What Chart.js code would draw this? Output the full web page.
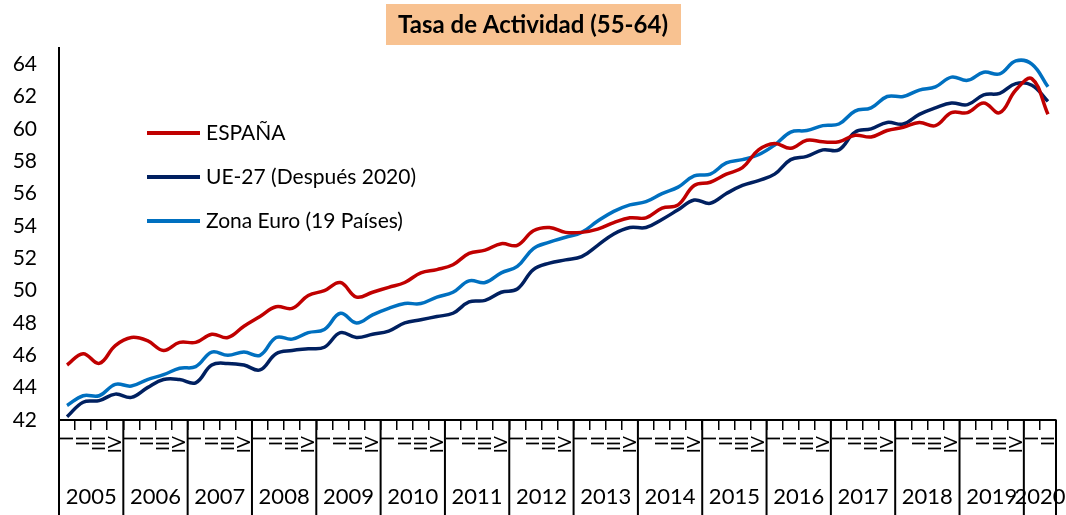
<!DOCTYPE html>
<html>
<head>
<meta charset="utf-8">
<script src="https://cdn.jsdelivr.net/npm/chart.js@4"></script>
<style>
  html, body { margin: 0; padding: 0; background: #fff; }
  #wrap { width: 1066px; height: 515px; position: relative; }
</style>
</head>
<body>
<div id="wrap"><canvas id="chart"></canvas></div>
<script>
const years = ["2005", "2006", "2007", "2008", "2009", "2010", "2011", "2012",
  "2013", "2014", "2015", "2016", "2017", "2018", "2019", "2020"];
const quartersPerYear = [4, 4, 4, 4, 4, 4, 4, 4, 4, 4, 4, 4, 4, 4, 4, 2];
const quarterNames = ["I", "II", "III", "IV"];
const quarterLabels = years.flatMap((y, i) => quarterNames.slice(0, quartersPerYear[i]));
const yTicks = [42, 44, 46, 48, 50, 52, 54, 56, 58, 60, 62, 64];

const espana = [45.4, 46.1, 45.5, 46.6, 47.1, 46.9, 46.3, 46.8, 46.8, 47.3, 47.1, 47.8,
  48.4, 49.0, 48.9, 49.7, 50.0, 50.5, 49.6, 49.9, 50.2, 50.5, 51.1, 51.3,
  51.6, 52.3, 52.5, 52.9, 52.8, 53.7, 53.9, 53.6, 53.6, 53.8, 54.2, 54.5,
  54.5, 55.1, 55.3, 56.5, 56.7, 57.2, 57.6, 58.7, 59.1, 58.8, 59.3, 59.2,
  59.2, 59.6, 59.5, 59.9, 60.1, 60.4, 60.2, 61.0, 61.0, 61.6, 61.0, 62.4,
  63.1, 60.9];
const ue27 = [42.2, 43.1, 43.2, 43.6, 43.4, 44.0, 44.5, 44.5, 44.3, 45.4, 45.5, 45.4,
  45.1, 46.1, 46.3, 46.4, 46.5, 47.4, 47.1, 47.3, 47.5, 48.0, 48.2, 48.4,
  48.6, 49.3, 49.4, 49.9, 50.1, 51.3, 51.7, 51.9, 52.1, 52.8, 53.5, 53.9,
  53.9, 54.4, 55.0, 55.6, 55.4, 56.0, 56.5, 56.8, 57.2, 58.1, 58.3, 58.7,
  58.7, 59.8, 60.0, 60.4, 60.3, 60.9, 61.3, 61.6, 61.5, 62.1, 62.2, 62.8,
  62.7, 61.7];
const zonaEuro = [42.9, 43.5, 43.5, 44.2, 44.1, 44.5, 44.8, 45.2, 45.3, 46.2, 46.0, 46.2,
  46.0, 47.1, 47.0, 47.4, 47.6, 48.6, 48.0, 48.5, 48.9, 49.2, 49.2, 49.6,
  49.9, 50.6, 50.5, 51.1, 51.5, 52.6, 53.0, 53.3, 53.6, 54.3, 54.9, 55.3,
  55.5, 56.0, 56.4, 57.1, 57.2, 57.9, 58.1, 58.4, 59.0, 59.8, 59.9, 60.2,
  60.3, 61.1, 61.3, 62.0, 62.0, 62.4, 62.6, 63.2, 63.0, 63.5, 63.4, 64.2,
  64.0, 62.6];

const FONT = "Lato, 'Open Sans', sans-serif";

// title with the peach box
const titleBox = {
  id: "titleBox",
  afterDraw(chart) {
    const ctx = chart.ctx;
    const cx = chart.width / 2;
    ctx.save();
    ctx.fillStyle = "#f8c291";
    ctx.fillRect(cx - 147, 4, 295, 41);
    ctx.fillStyle = "#000";
    ctx.font = "bold 24px " + FONT;
    ctx.textAlign = "center";
    ctx.textBaseline = "middle";
    ctx.fillText("Tasa de Actividad (55-64)", cx, 25);
    ctx.restore();
  },
};

// legend inside the plot
const insideLegend = {
  id: "insideLegend",
  afterDraw(chart) {
    const { ctx, chartArea } = chart;
    ctx.save();
    ctx.font = "21px " + FONT;
    ctx.textBaseline = "middle";
    chart.data.datasets.forEach((ds, i) => {
      const y = chartArea.top + 85 + i * 44;
      const x = chartArea.left + 88;
      ctx.strokeStyle = ds.borderColor;
      ctx.lineWidth = 4;
      ctx.beginPath();
      ctx.moveTo(x, y);
      ctx.lineTo(x + 53, y);
      ctx.stroke();
      ctx.fillStyle = "#000";
      ctx.fillText(ds.label, x + 59, y);
    });
    ctx.restore();
  },
};

// second axis row: years with separators
const yearAxis = {
  id: "yearAxis",
  afterDraw(chart) {
    const { ctx } = chart;
    const x = chart.scales.x;
    const step = x.getPixelForTick(1) - x.getPixelForTick(0);
    let start = 0;
    ctx.save();
    ctx.strokeStyle = "#000";
    ctx.lineWidth = 2;
    ctx.fillStyle = "#000";
    ctx.font = "22px " + FONT;
    ctx.textAlign = "center";
    ctx.textBaseline = "middle";
    years.forEach((yr, i) => {
      const n = quartersPerYear[i];
      const left = x.getPixelForTick(start) - step / 2;
      const right = x.getPixelForTick(start + n - 1) + step / 2;
      ctx.beginPath();
      ctx.moveTo(left, x.top);
      ctx.lineTo(left, chart.height);
      if (i === years.length - 1) {
        ctx.moveTo(right, x.top);
        ctx.lineTo(right, chart.height);
      }
      ctx.stroke();
      ctx.fillText(yr, (left + right) / 2, x.bottom - 18);
      start += n;
    });
    ctx.restore();
  },
};

new Chart(document.getElementById("chart"), {
  type: "line",
  data: {
    labels: quarterLabels,
    datasets: [
      { label: "ESPAÑA", data: espana, borderColor: "#c00000" },
      { label: "UE-27 (Después 2020)", data: ue27, borderColor: "#002060" },
      { label: "Zona Euro (19 Países)", data: zonaEuro, borderColor: "#0070c0" },
    ],
  },
  options: {
    responsive: true,
    maintainAspectRatio: false,
    animation: false,
    layout: { padding: { top: 48, right: 10, left: 0, bottom: 0 } },
    elements: {
      line: { borderWidth: 3.5, tension: 0.4, fill: false },
      point: { radius: 0 },
    },
    plugins: {
      legend: { display: false },
      title: { display: false },
      tooltip: { enabled: false },
    },
    scales: {
      x: {
        offset: true,
        grid: { display: true, drawOnChartArea: false, offset: true, tickLength: 10, color: "#000", lineWidth: 1.5 },
        border: { color: "#000", width: 2 },
        ticks: {
          autoSkip: false,
          maxRotation: 90,
          minRotation: 90,
          padding: 6,
          color: "#000",
          font: { family: FONT, size: 18 },
        },
        afterFit: (s) => {
          s.height = 95;
          s.paddingLeft = 0;
          s.paddingRight = 0;
        },
      },
      y: {
        min: 42,
        max: 65,
        grid: { display: false, drawTicks: false },
        border: { color: "#000", width: 2 },
        afterBuildTicks: (s) => { s.ticks = yTicks.map((v) => ({ value: v })); },
        ticks: {
          padding: 22,
          color: "#000",
          font: { family: FONT, size: 21 },
        },
        afterFit: (s) => {
          s.width = 59;
          s.paddingTop = 0;
          s.paddingBottom = 0;
        },
      },
    },
  },
  plugins: [titleBox, insideLegend, yearAxis],
});
</script>
</body>
</html>
